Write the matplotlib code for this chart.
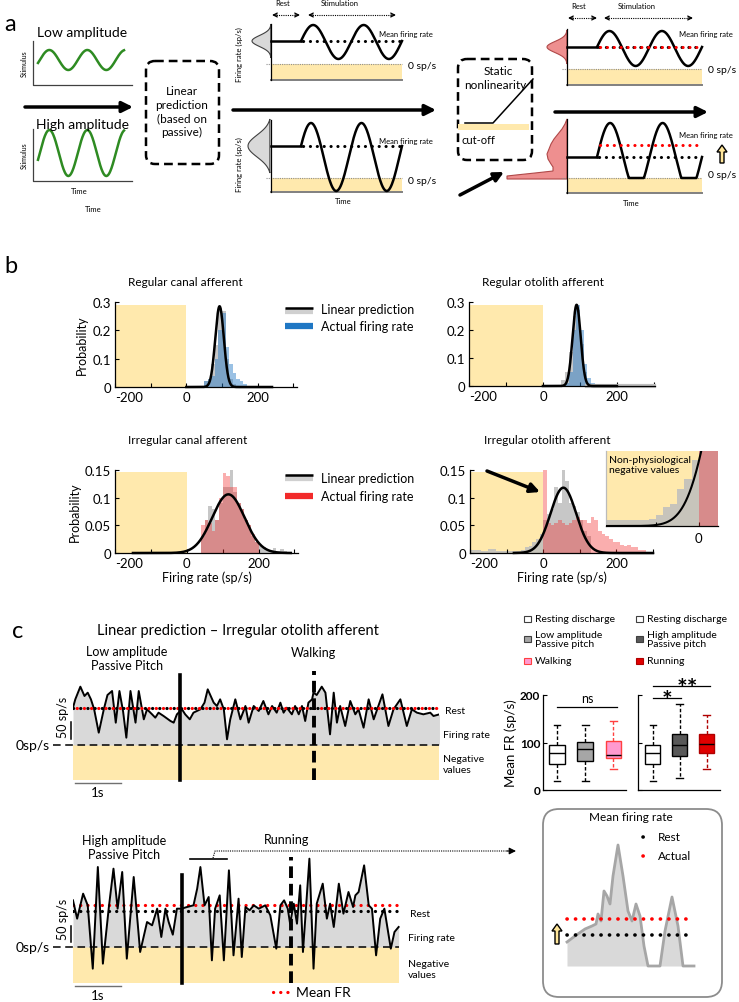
import numpy as np
import matplotlib
matplotlib.use('Agg')
import matplotlib.pyplot as plt
from matplotlib.patches import FancyBboxPatch, Rectangle, FancyArrow, Polygon

W, H = 739, 1003
YELLOW = '#FFE9AD'
LGRAY = '#D9D9D9'
HGRAY = '#A6A6A6'
BLUE = '#1F77C4'
RED = '#F22A2A'
PINK = '#EE8F8F'

# ---------------- panel b : histograms (bin start, 10 sp/s bins) ----------------
BIN = 10
reg_canal_pred_start = 50
reg_canal_pred = [0.02, 0.03, 0.08, 0.15, 0.28, 0.27, 0.10, 0.03, 0.01]
reg_canal_act_start = 50
reg_canal_act = [0.02, 0.03, 0.04, 0.10, 0.20, 0.26, 0.14, 0.08, 0.05, 0.03, 0.02, 0.01, 0.005]
reg_canal_fit = (93, 12, 0.285, 0, 240)          # mean, sd, peak, from, to

reg_oto_pred_start = 50
reg_oto_pred = [0.02, 0.05, 0.12, 0.25, 0.27, 0.15, 0.05, 0.01]
reg_oto_act_start = 60
reg_oto_act = [0.01, 0.05, 0.20, 0.29, 0.20, 0.08, 0.03, 0.01]
reg_oto_fit = (91, 11, 0.29, 0, 200)

irr_canal_pred_start = 40
irr_canal_pred = [0.03, 0.06, 0.085, 0.08, 0.06, 0.09, 0.12, 0.12, 0.155, 0.11, 0.09,
                  0.08, 0.06, 0.05, 0.03, 0.02, 0.012, 0.01, 0.008, 0.006, 0.009, 0.004,
                  0.008, 0.004]
irr_canal_act_start = 40
irr_canal_act = [0.05, 0.06, 0.055, 0.04, 0.06, 0.10, 0.145, 0.14, 0.12, 0.12, 0.09,
                 0.08, 0.06, 0.05, 0.035, 0.02]
irr_canal_fit = (116, 45, 0.106, -150, 290)

irr_oto_pred_start = -200
irr_oto_pred = [0.006, 0.006, 0.005, 0.003, 0.003, 0.007, 0.007, 0.003, 0.003, 0.003,
                0.003, 0.003, 0.003, 0.004, 0.006, 0.010, 0.012, 0.020, 0.025, 0.035,
                0.06, 0.07, 0.08, 0.12, 0.09, 0.157, 0.13, 0.09, 0.085, 0.075, 0.06,
                0.04, 0.03]
irr_oto_act_start = 0
irr_oto_act = [0.15, 0.055, 0.05, 0.055, 0.06, 0.055, 0.05, 0.055, 0.06, 0.065, 0.06,
               0.06, 0.055, 0.065, 0.06, 0.04, 0.035, 0.03, 0.025, 0.02, 0.02, 0.015,
               0.012, 0.015, 0.01, 0.01, 0.005, 0.005]
irr_oto_fit = (55, 35, 0.118, -80, 300)

# ---------------- panel c : firing-rate traces (s, sp/s) ----------------
low_t = [0.00, 0.05, 0.16, 0.25, 0.32, 0.39, 0.46, 0.56, 0.67, 0.75, 0.85, 0.93, 1.01,
         1.09, 1.16, 1.25, 1.36, 1.43, 1.54, 1.61, 1.72, 1.79, 1.86, 1.97, 2.12, 2.19,
         2.26, 2.37, 2.44, 2.54, 2.62, 2.77, 2.86, 2.93, 3.06, 3.13, 3.20, 3.28, 3.35,
         3.42, 3.53, 3.64, 3.75, 3.82, 3.93, 4.04, 4.14, 4.25, 4.33, 4.43, 4.51, 4.58,
         4.65, 4.76, 4.83, 4.91, 4.98, 5.05, 5.12, 5.20, 5.23, 5.30, 5.41, 5.49, 5.59,
         5.67, 5.74, 5.81, 5.92, 6.03, 6.14, 6.21, 6.32, 6.43, 6.54, 6.73, 6.86, 6.97,
         7.12, 7.26, 7.37, 7.48, 7.62, 7.77, 7.84, 7.97]
low_fr = [112, 137, 175, 147, 157, 137, 107, 37, 107, 150, 162, 67, 162, 100, 22, 162,
          67, 162, 77, 107, 92, 82, 97, 87, 72, 67, 92, 107, 92, 77, 97, 107, 127, 167,
          127, 117, 137, 107, 17, 77, 137, 77, 117, 67, 117, 102, 132, 92, 117, 97, 127,
          97, 112, 92, 117, 92, 117, 72, 127, 137, 157, 150, 175, 157, 32, 157, 67, 117,
          57, 132, 92, 107, 52, 137, 77, 152, 57, 107, 137, 57, 107, 97, 92, 97, 87, 92]
low_rest = 112

high_t = [0.00, 0.09, 0.22, 0.32, 0.43, 0.54, 0.65, 0.78, 0.88, 0.97, 1.07, 1.17, 1.32,
          1.46, 1.61, 1.72, 1.83, 1.92, 2.01, 2.08, 2.17, 2.26, 2.36, 2.48, 2.62, 2.70,
          2.77, 2.86, 2.95, 3.02, 3.09, 3.19, 3.28, 3.39, 3.49, 3.60, 3.67, 3.75, 3.84,
          3.93, 4.04, 4.18, 4.29, 4.42, 4.51, 4.59, 4.67, 4.72, 4.80, 4.87, 4.94, 5.00,
          5.14, 5.23, 5.30, 5.43, 5.52, 5.59, 5.67, 5.78, 5.88, 5.99, 6.09, 6.14, 6.21,
          6.33, 6.43, 6.50, 6.59, 6.68, 6.77, 6.91, 6.99, 7.08]
high_fr = [140, 85, 160, 125, -65, 240, -50, 120, 235, 115, 225, -35, 210, -15, 75, 65,
           115, 30, 115, 75, 37, 115, 115, 120, 125, 175, 240, 125, 150, -40, 115, 155,
           -40, 230, -25, 145, -30, 120, 110, 125, 115, 125, 95, -5, 125, 140, 115, 70,
           130, 70, 185, -15, 265, -65, 130, 190, 85, 130, 60, 190, 100, 165, 120, 155,
           165, 245, 125, 115, -25, 85, 115, -5, 45, 60]
high_rest = 108
high_mean = 126

# ---------------- panel c : mean FR boxplots (whislo, q1, med, q3, whishi) ----------------
box_left_names = ['Resting discharge', 'Low amplitude\nPassive pitch', 'Walking']
box_left = [(18, 54, 77, 95, 136), (20, 61, 86, 101, 136), (44, 68, 73, 103, 145)]
box_right_names = ['Resting discharge', 'High amplitude\nPassive pitch', 'Running']
box_right = [(18, 54, 78, 95, 136), (25, 72, 94, 117, 182), (44, 77, 97, 117, 157)]
box_face_left = ['white', '#A6A6A6', '#FF9AD0']
box_edge_left = ['k', 'k', '#FF4040']
box_face_right = ['white', '#595959', '#E00000']
box_edge_right = ['k', 'k', '#B00000']

# schematic shapes (illustrations)
nonlin_profile_y = [120, 125, 130, 135, 140, 145, 150, 155, 160, 165, 168, 172, 174, 176, 177, 179, 180, 180]
nonlin_profile_w = [0, 2, 5, 9, 13, 16, 18, 20, 19, 16, 14, 14, 32, 51, 60, 60, 60, 0]
inset_x = [567, 575, 585, 592, 596, 598, 601, 604, 607, 610, 613, 618, 623, 628, 632,
           636, 640, 644, 648, 660, 665, 672, 678, 683, 694]
inset_h = [24, 30, 37, 40, 42, 52, 45, 75, 70, 62, 90, 121, 90, 55, 45, 62, 50, 20, 0,
           0, 35, 69, 40, 0, 0]

plt.rcParams['font.family'] = ['Lato', 'DejaVu Sans']
plt.rcParams['axes.linewidth'] = 0.9

fig = plt.figure(figsize=(W / 100, H / 100), dpi=100)


def rect(x0, y0, x1, y1):
    return [x0 / W, 1 - y1 / H, (x1 - x0) / W, (y1 - y0) / H]


ov = fig.add_axes([0, 0, 1, 1], zorder=10)
ov.set_xlim(0, W)
ov.set_ylim(H, 0)
ov.axis('off')
ov.patch.set_alpha(0)


def T(x, y, s, size=8, ha='center', va='center', **kw):
    ov.text(x, y, s, fontsize=size, ha=ha, va=va, **kw)


def dots(ax, x, y, color='k', lw=2.2, gap=2.2):
    ax.plot(x, y, color=color, lw=lw, ls=(0, (0.05, gap)), dash_capstyle='round',
            solid_capstyle='round')


def arrow(x0, y0, x1, y1, lw=2.5, ms=16, style='-|>'):
    ov.annotate('', xy=(x1, y1), xytext=(x0, y0),
                arrowprops=dict(arrowstyle=style, lw=lw, color='k', mutation_scale=ms,
                                shrinkA=0, shrinkB=0))


def dbl_dotted(x0, x1, y):
    ov.plot([x0 + 2, x1 - 2], [y, y], color='k', lw=0.8, ls=(0, (1, 1)))
    arrow(x0 + 5, y, x0, y, lw=0.9, ms=7, style='->')
    arrow(x1 - 5, y, x1, y, lw=0.9, ms=7, style='->')


def yellow_up(x, y0, y1):
    ov.add_patch(FancyArrow(x, y0, 0, y1 - y0, width=4, head_width=10, head_length=7,
                            length_includes_head=True, fc='#FFE699', ec='k', lw=1))


# =============================== panel a ===============================
T(4, 24, 'a', 17, ha='left')
for top, bot, mid, amp, title, ty in [(42, 86, 61, 10, 'Low amplitude', 33),
                                      (130, 182, 154, 23, 'High amplitude', 125)]:
    ov.plot([33, 33, 132], [top, bot, bot], color='#404040', lw=0.9)
    x = np.linspace(38, 124, 200)
    ov.plot(x, mid - amp * np.sin(2 * np.pi * (x - 38) / 38 - 0.3), color='#2E8B22', lw=1.8)
    T(82, ty, title, 10)
    T(24, (top + bot) / 2, 'Stimulus', 5, rotation=90)
T(79, 191, 'Time', 5.5)
T(93, 209, 'Time', 5.5)
arrow(25, 108, 133, 108)
ov.add_patch(FancyBboxPatch((146, 62), 73, 103, boxstyle='round,pad=0,rounding_size=9',
                            fill=False, lw=1.8, ls=(0, (3.5, 2))))
T(182, 112, 'Linear\nprediction\n(based on\npassive)', 8.5, linespacing=1.3)
arrow(233, 111, 436, 111)
ov.add_patch(FancyBboxPatch((458, 60), 74, 101, boxstyle='round,pad=0,rounding_size=9',
                            fill=False, lw=1.8, ls=(0, (3.5, 2))))
T(498, 71, 'Static', 8.5)
T(495, 85, 'nonlinearity', 8.5)
ov.add_patch(Rectangle((458, 125), 71, 6, color=YELLOW, lw=0))
ov.plot([465, 493, 533], [124, 124, 80], color='k', lw=1.1)
T(462, 140, 'cut-off', 8, ha='left')
arrow(460, 196, 504, 173, lw=2.5, ms=14)


def schematic(ax_x, top, bot, zero, x_end, mean, c, amp, dist, dist_color, red_mean=None,
              clip=False, label_y=None, zero_y_text=None):
    ov.add_patch(Rectangle((ax_x, zero), x_end - ax_x, bot - zero, color=YELLOW, lw=0))
    ov.plot([ax_x - 5, x_end], [zero, zero], color='#909090', lw=0.8, ls=(0, (1, 1)))
    ov.plot([ax_x, x_end], [bot, bot], color='#808080', lw=1.4)
    ov.plot([ax_x, ax_x], [top, bot], color='k', lw=0.9)
    dy, dw = dist
    ov.add_patch(Polygon(np.column_stack([ax_x - np.asarray(dw), dy]), closed=True,
                         fc=dist_color, ec='#404040' if dist_color == LGRAY else '#B04848',
                         lw=0.8))
    x0 = ax_x + 30
    ov.plot([ax_x, x0], [mean, mean], color='k', lw=1.8)
    phi = np.arcsin(np.clip((c - mean) / amp, -1, 1))
    x = np.linspace(x0, x_end, 300)
    y = c - amp * np.sin(2 * np.pi * (x - x0) / (x_end - x0) * 2 + phi)
    if clip:
        y = np.minimum(y, zero)
    ov.plot(x, y, color='k', lw=1.8)
    dots(ov, [x0 + 2, x_end], [mean, mean], lw=2.2)
    if red_mean is not None:
        dots(ov, [x0 + 3, x_end], [red_mean, red_mean], color='red', lw=2.2)
    T(x_end - 23, label_y, 'Mean firing rate', 5.5, ha='left')
    T(x_end + 6, zero_y_text, '0 sp/s', 7.5, ha='left')


def gauss_profile(center, sigma, width, half):
    yy = np.linspace(center - half, center + half, 60)
    return yy, width * np.exp(-0.5 * ((yy - center) / sigma) ** 2)


schematic(271, 25, 81, 65, 402, 42, 43, 17, gauss_profile(42, 5.5, 19, 17), LGRAY,
          label_y=34, zero_y_text=66)
schematic(271, 121, 193, 179, 402, 147, 158, 34, gauss_profile(147, 11, 23, 27), LGRAY,
          label_y=141, zero_y_text=181)
schematic(567, 30, 86, 70, 702, 48, 49.5, 17.5, gauss_profile(48, 5.5, 20, 17), PINK,
          red_mean=48, label_y=34, zero_y_text=70)
schematic(567, 120, 194, 179, 702, 158, 158, 34, (nonlin_profile_y, nonlin_profile_w), PINK,
          red_mean=146, clip=True, label_y=135, zero_y_text=175)
for yc in (55, 165):
    T(239, yc, 'Firing rate (sp/s)', 5.5, rotation=90)
T(343, 201, 'Time', 5.5)
T(631, 203, 'Time', 5.5)
for xr, xs, y, (a0, a1), (b0, b1) in [(283, 340, 3, (272, 300), (308, 396)),
                                      (579, 637, 6, (568, 597), (604, 693))]:
    T(xr, y, 'Rest', 5.5)
    T(xs, y, 'Stimulation', 5.5)
    dbl_dotted(a0, a1, y + 13)
    dbl_dotted(b0, b1, y + 13)
arrow(555, 113, 708, 113)
yellow_up(722, 164, 146)

# =============================== panel b ===============================
T(4, 266, 'b', 17, ha='left')


def hist_panel(box, ymax, yticks, ylabels, pred_start, pred, act_start, act, act_color,
               act_alpha, fit, ylabel=False, xlabel=False, xmax=305, gray_tail=None):
    ax = fig.add_axes(rect(*box))
    ax.axvspan(-200, 0, ymax=0.97, color=YELLOW, lw=0, zorder=0)
    ax.bar(pred_start + BIN * np.arange(len(pred)), pred, width=BIN, align='edge',
           color='#BEBEBE', alpha=0.85, lw=0, zorder=1)
    ax.bar(act_start + BIN * np.arange(len(act)), act, width=BIN, align='edge',
           color=act_color, alpha=act_alpha, lw=0, zorder=2)
    m, s, pk, f0, f1 = fit
    if gray_tail is not None:
        ax.plot(gray_tail, [0, 0], color='#BEBEBE', lw=3, zorder=2, clip_on=False)
    x = np.linspace(f0, f1, 400)
    ax.plot(x, pk * np.exp(-0.5 * ((x - m) / s) ** 2), color='k', lw=1.8, zorder=3,
            clip_on=False)
    ax.set_xlim(-200, xmax)
    ax.set_ylim(0, ymax)
    ax.set_xticks([-200, -100, 0, 100, 200, 300])
    ax.set_xticklabels(['-200', '', '0', '', '200', ''])
    ax.get_xticklabels()[0].set_horizontalalignment('left')
    ax.set_yticks(yticks)
    ax.set_yticklabels(ylabels)
    ax.tick_params(direction='in', length=3, labelsize=9.5, pad=3)
    for sp in ('top', 'right'):
        ax.spines[sp].set_visible(False)
    if ylabel:
        ax.set_ylabel('Probability', fontsize=9, labelpad=3)
    if xlabel:
        ax.set_xlabel('Firing rate (sp/s)', fontsize=9, labelpad=1)
    ax.patch.set_alpha(0)
    return ax


hist_panel((115, 303, 297, 388), 0.3, [0, 0.1, 0.2, 0.3], ['0', '0.1', '0.2', '0.3'],
           reg_canal_pred_start, reg_canal_pred, reg_canal_act_start, reg_canal_act,
           BLUE, 0.45, reg_canal_fit, ylabel=True, xmax=310)
hist_panel((469, 303, 655, 387), 0.3, [0, 0.1, 0.2, 0.3], ['0', '0.1', '0.2', '0.3'],
           reg_oto_pred_start, reg_oto_pred, reg_oto_act_start, reg_oto_act,
           BLUE, 0.45, reg_oto_fit, xmax=303, gray_tail=[120, 300])
hist_panel((115, 471, 298, 554), 0.15, [0, 0.05, 0.1, 0.15], ['0', '0.05', '0.1', '0.15'],
           irr_canal_pred_start, irr_canal_pred, irr_canal_act_start, irr_canal_act,
           RED, 0.38, irr_canal_fit, ylabel=True, xlabel=True, xmax=310)
ax_io = hist_panel((470, 471, 653, 554), 0.15, [0, 0.05, 0.1, 0.15],
                   ['0', '0.05', '0.1', '0.15'],
                   irr_oto_pred_start, irr_oto_pred, irr_oto_act_start, irr_oto_act,
                   RED, 0.38, irr_oto_fit, xlabel=True, xmax=300)

# inset of the irregular otolith histogram
ins = fig.add_axes(rect(606, 452, 718, 527), zorder=5)
ins.axvspan(-130, 0, color=YELLOW, lw=0, zorder=0)
ins.bar(irr_oto_pred_start + BIN * np.arange(len(irr_oto_pred)), irr_oto_pred, width=BIN,
        align='edge', color='#BEBEBE', alpha=0.85, lw=0, zorder=1)
ins.bar(irr_oto_act_start + BIN * np.arange(len(irr_oto_act)), irr_oto_act, width=BIN,
        align='edge', color=RED, alpha=0.38, lw=0, zorder=2)
m, s, pk, f0, f1 = irr_oto_fit
xi = np.linspace(-130, 30, 300)
ins.plot(xi, pk * np.exp(-0.5 * ((xi - m) / s) ** 2), color='k', lw=1.5, zorder=3)
ins.set_xlim(-130, 27)
ins.set_ylim(0, 0.04)
ins.set_yticks([])
ins.set_xticks([-60, 0])
ins.set_xticklabels(['', '0'])
ins.tick_params(direction='in', length=3, labelsize=9.5, pad=4)
for sp in ('top', 'right'):
    ins.spines[sp].set_visible(False)
ins.spines['left'].set_color('#BBBBBB')
ins.text(0.03, 0.95, 'Non-physiological\nnegative values', transform=ins.transAxes,
         fontsize=7.5, ha='left', va='top', linespacing=1.2)
arrow(487, 472, 540, 493, lw=2.5, ms=14)

for y0, act_color, rows in [(309, BLUE, (310, 327)), (476, RED, (479, 497))]:
    ov.plot([285, 313], [y0 + 3, y0 + 3], color='#D0D0D0', lw=4.5, solid_capstyle='butt')
    ov.plot([285, 313], [y0, y0], color='k', lw=1.8, solid_capstyle='butt')
    ov.plot([285, 313], [rows[1], rows[1]], color=act_color, lw=4.5, solid_capstyle='butt')
    T(321, rows[0], 'Linear prediction', 9, ha='left')
    T(321, rows[1], 'Actual firing rate', 9, ha='left')
T(185, 282, 'Regular canal afferent', 8.5)
T(543, 282, 'Regular otolith afferent', 8.5)
T(188, 441, 'Irregular canal afferent', 8.5)
T(547, 441, 'Irregular otolith afferent', 8.5)

# =============================== panel c ===============================
T(12, 632, 'c', 17, ha='left')
T(238, 631, 'Linear prediction \u2013 Irregular otolith afferent', 10.5)


def trace_panel(box, tmax, ylo, yhi, t, fr, rest, solid_t, dash_t, vtop, bar, mean=None):
    ax = fig.add_axes(rect(*box))
    ax.set_xlim(0, tmax)
    ax.set_ylim(ylo, yhi)
    ax.axis('off')
    t = np.asarray(t)
    fr = np.asarray(fr, dtype=float)
    ax.axhspan(ylo, 0, xmax=t[-1] / tmax, color=YELLOW, lw=0, zorder=0)
    ax.fill_between(t, 0, np.clip(fr, 0, None), color=LGRAY, lw=0, zorder=1)
    ax.plot([-0.43, t[-1]], [0, 0], color='k', lw=1.1, ls=(0, (5, 3)), zorder=2,
            clip_on=False)
    ax.plot(t, fr, color='k', lw=1.4, zorder=4, solid_joinstyle='round')
    dots(ax, [0, t[-1]], [rest, rest], lw=2.3, gap=2.2)
    if mean is None:
        ax.plot([0, t[-1]], [rest, rest], color='red', lw=2.3, ls=(1.1, (0.05, 2.2)),
                dash_capstyle='round', zorder=5)
    else:
        dots(ax, [0, t[-1] + 0.05], [mean, mean], color='red', lw=2.3)
    ax.plot([solid_t, solid_t], [ylo, vtop], color='k', lw=2.6, zorder=6, clip_on=False)
    ax.plot([dash_t, dash_t], [ylo, yhi], color='k', lw=2.8, ls=(0, (3, 1.5)), zorder=6,
            clip_on=False)
    ax.plot([-0.04, -0.04], bar, color='k', lw=1.1, clip_on=False)
    ax.text(-0.22, 87, '50 sp/s', rotation=90, fontsize=9, ha='center', va='center')
    ax.text(-0.5, 0, '0sp/s', fontsize=10, ha='right', va='center')
    ax.plot([0.04, 1.04], [ylo - 9, ylo - 9], color='#707070', lw=1, clip_on=False)
    ax.text(0.54, ylo - 18, '1s', fontsize=9.5, ha='center', va='top')
    return ax


trace_panel((73, 672, 439, 781), 7.96, -105, 222, low_t, low_fr, low_rest, 2.33, 5.25,
            210, [19, 69])
trace_panel((73, 858, 400, 984), 7.11, -108, 270, high_t, high_fr, high_rest, 2.36, 4.75,
            216, [15, 62], mean=high_mean)

T(127, 659, 'Low amplitude\nPassive Pitch', 9, linespacing=1.25)
T(313, 653, 'Walking', 9)
T(445, 711, 'Rest', 7.5, ha='left')
T(443, 735, 'Firing rate', 7.5, ha='left')
T(443, 765, 'Negative\nvalues', 7.5, ha='left', linespacing=1.3)
T(124, 848, 'High amplitude\nPassive Pitch', 9, linespacing=1.25)
T(287, 840, 'Running', 9)
T(410, 915, 'Rest', 7.5, ha='left')
T(408, 939, 'Firing rate', 7.5, ha='left')
T(408, 970, 'Negative\nvalues', 7.5, ha='left', linespacing=1.3)
ov.plot([190, 227], [860, 860], color='k', lw=1.2)
ov.plot([213, 215, 508], [859, 852, 852], color='k', lw=0.8, ls=(0, (1, 1)))
arrow(507, 852, 516, 852, lw=0.8, ms=10)
dots(ov, [273, 293], [993, 993], color='red', lw=2.3)
T(296, 993, 'Mean FR', 10, ha='left')


# boxplots
def box_panel(box, xlim, stats, faces, edges, labels):
    ax = fig.add_axes(rect(*box))
    st = [dict(whislo=s[0], q1=s[1], med=s[2], q3=s[3], whishi=s[4], fliers=[]) for s in stats]
    bp = ax.bxp(st, positions=[1, 2, 3], widths=0.55, patch_artist=True, showfliers=False)
    for i in range(3):
        bp['boxes'][i].set_facecolor(faces[i])
        bp['boxes'][i].set_edgecolor(edges[i])
        bp['boxes'][i].set_linewidth(1)
        bp['medians'][i].set_color('k')
        bp['medians'][i].set_linewidth(1)
        for w in bp['whiskers'][2 * i:2 * i + 2]:
            w.set_color(edges[i])
            w.set_linestyle((0, (2.5, 1.5)))
            w.set_linewidth(1)
        for c in bp['caps'][2 * i:2 * i + 2]:
            c.set_color(edges[i])
            c.set_xdata(np.array([i + 1 - 0.12, i + 1 + 0.12]))
    ax.set_xlim(*xlim)
    ax.set_ylim(0, 200)
    ax.set_xticks([])
    ax.set_yticks([0, 100, 200])
    if labels:
        ax.set_yticklabels(['0', '100', '200'], fontweight='bold')
        ax.set_ylabel('Mean FR (sp/s)', fontsize=9.5, labelpad=2)
    else:
        ax.set_yticklabels([])
    ax.tick_params(direction='in', length=3, labelsize=8.5, pad=2)
    for sp in ('top', 'right'):
        ax.spines[sp].set_visible(False)
    ax.patch.set_alpha(0)
    return ax


box_panel((543, 696, 626, 791), (0.5, 3.45), box_left, box_face_left, box_edge_left, True)
box_panel((638, 696, 720, 791), (0.45, 3.5), box_right, box_face_right, box_edge_right, False)
ov.plot([557, 617], [708, 708], color='k', lw=0.9)
T(587, 699, 'ns', 9)
ov.plot([653, 681], [699, 699], color='k', lw=0.9)
T(667, 701, '*', 18, fontweight='bold')
ov.plot([653, 710], [687, 687], color='k', lw=0.9)
T(687, 690, '**', 18, fontweight='bold')

for col, (sx, names, faces, edges) in enumerate([(524, box_left_names, box_face_left, box_edge_left),
                                                 (636, box_right_names, box_face_right, box_edge_right)]):
    for yy, name, fc, ec in zip([620, 640, 662], names, faces, edges):
        ov.add_patch(Rectangle((sx, yy - 3), 7, 6, fc=fc, ec=ec if ec != 'k' else '#404040', lw=0.8))
        T(sx + 11, yy, name, 7.5, ha='left', linespacing=1.05)

# mean firing rate illustration
ov.add_patch(FancyBboxPatch((543, 810), 179, 188, boxstyle='round,pad=0,rounding_size=16',
                            fill=False, ec='#8C8C8C', lw=1.3))
T(631, 818, 'Mean firing rate', 8.5)
ix = np.asarray(inset_x, dtype=float)
iy = 967 - np.asarray(inset_h, dtype=float)
ov.fill_between(ix, 967, iy, color=LGRAY, lw=0)
ov.plot(ix, iy, color=HGRAY, lw=2)
dots(ov, [567, 688], [920, 920], color='red', lw=2.6, gap=2.3)
dots(ov, [567, 688], [936, 936], color='k', lw=2.6, gap=2.3)
dots(ov, [643, 651], [838, 838], color='k', lw=2.6, gap=2.3)
T(658, 838, 'Rest', 8.5, ha='left')
dots(ov, [643, 651], [857, 857], color='red', lw=2.6, gap=2.3)
T(658, 857, 'Actual', 8.5, ha='left')
yellow_up(557, 945, 925)

fig.savefig('out.png', dpi=100)
